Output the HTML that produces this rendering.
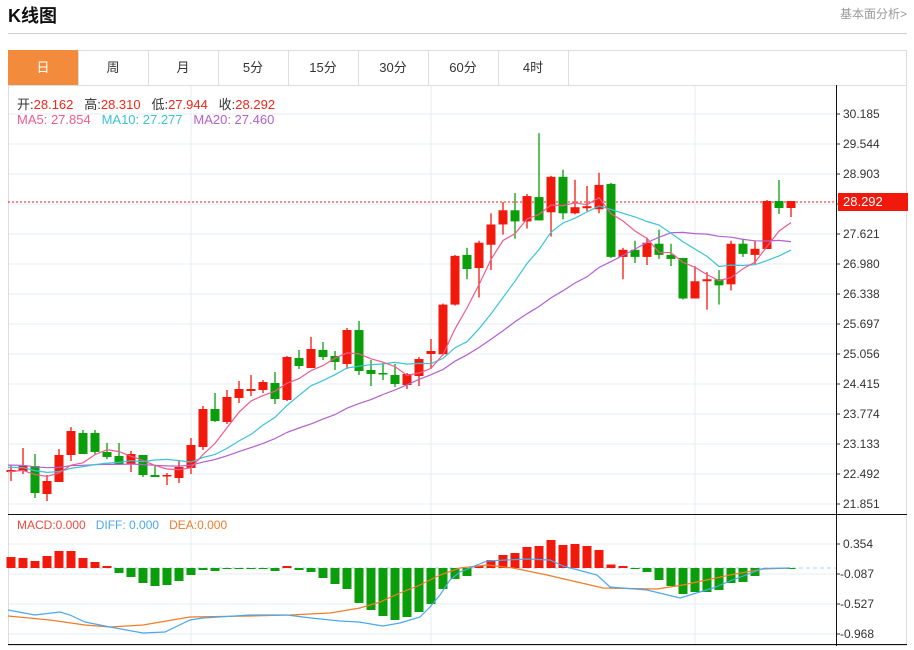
<!DOCTYPE html>
<html><head><meta charset="utf-8"><style>
body{margin:0;width:914px;height:650px;background:#fff;font-family:"Liberation Sans","Noto Sans CJK SC",sans-serif;position:relative;overflow:hidden}
.t{position:absolute;white-space:nowrap}
</style></head><body>
<div class="t" style="left:8px;top:2px;font-size:18px;font-weight:bold;color:#111">K线图</div>
<div class="t" style="right:7px;top:5px;font-size:12px;color:#999">基本面分析&gt;</div>
<div style="position:absolute;left:8px;top:33px;width:899px;height:1px;background:#d0d0d0"></div>
<svg id="s" width="914" height="650" style="position:absolute;left:0;top:0"></svg>
<div class="t" style="left:8px;top:50px;width:70px;height:35px;line-height:35px;text-align:center;background:#f28c3c;color:#fff;font-size:13px">日</div>
<div class="t" style="left:78px;top:50px;width:70px;line-height:35px;text-align:center;font-size:13px;color:#333">周</div>
<div class="t" style="left:148px;top:50px;width:70px;line-height:35px;text-align:center;font-size:13px;color:#333">月</div>
<div class="t" style="left:218px;top:50px;width:70px;line-height:35px;text-align:center;font-size:13px;color:#333">5分</div>
<div class="t" style="left:288px;top:50px;width:70px;line-height:35px;text-align:center;font-size:13px;color:#333">15分</div>
<div class="t" style="left:358px;top:50px;width:70px;line-height:35px;text-align:center;font-size:13px;color:#333">30分</div>
<div class="t" style="left:428px;top:50px;width:70px;line-height:35px;text-align:center;font-size:13px;color:#333">60分</div>
<div class="t" style="left:498px;top:50px;width:70px;line-height:35px;text-align:center;font-size:13px;color:#333">4时</div>
<div class="t" style="left:17px;top:94px;font-size:13px;color:#333">开:<span style="color:#f0261a">28.162</span>&nbsp;&nbsp;&nbsp;高:<span style="color:#f0261a">28.310</span>&nbsp;&nbsp;&nbsp;低:<span style="color:#f0261a">27.944</span>&nbsp;&nbsp;&nbsp;收:<span style="color:#f0261a">28.292</span></div>
<div class="t" style="left:17px;top:112px;font-size:13px;"><span style="color:#ee5c8c">MA5: 27.854</span>&nbsp;&nbsp;&nbsp;<span style="color:#3cc3d8">MA10: 27.277</span>&nbsp;&nbsp;&nbsp;<span style="color:#b460cf">MA20: 27.460</span></div>
<div class="t" style="left:17px;top:518px;font-size:12px;"><span style="color:#ee4b3f">MACD:0.000</span>&nbsp;&nbsp;&nbsp;<span style="color:#4aa8f0">DIFF: 0.000</span>&nbsp;&nbsp;&nbsp;<span style="color:#f07d28">DEA:0.000</span></div>
<div class="t" style="left:843px;top:106px;font-size:12px;color:#333;line-height:16px">30.185</div>
<div class="t" style="left:843px;top:136px;font-size:12px;color:#333;line-height:16px">29.544</div>
<div class="t" style="left:843px;top:166px;font-size:12px;color:#333;line-height:16px">28.903</div>
<div class="t" style="left:843px;top:226px;font-size:12px;color:#333;line-height:16px">27.621</div>
<div class="t" style="left:843px;top:256px;font-size:12px;color:#333;line-height:16px">26.980</div>
<div class="t" style="left:843px;top:286px;font-size:12px;color:#333;line-height:16px">26.338</div>
<div class="t" style="left:843px;top:316px;font-size:12px;color:#333;line-height:16px">25.697</div>
<div class="t" style="left:843px;top:346px;font-size:12px;color:#333;line-height:16px">25.056</div>
<div class="t" style="left:843px;top:376px;font-size:12px;color:#333;line-height:16px">24.415</div>
<div class="t" style="left:843px;top:406px;font-size:12px;color:#333;line-height:16px">23.774</div>
<div class="t" style="left:843px;top:436px;font-size:12px;color:#333;line-height:16px">23.133</div>
<div class="t" style="left:843px;top:466px;font-size:12px;color:#333;line-height:16px">22.492</div>
<div class="t" style="left:843px;top:496px;font-size:12px;color:#333;line-height:16px">21.851</div>
<div class="t" style="left:838px;top:193px;width:70px;height:18px;background:#f0190c;color:#fff;font-size:13px;line-height:18px;padding-left:5px;box-sizing:border-box">28.292</div>
<div class="t" style="left:843px;top:536px;font-size:12px;color:#333;line-height:16px">0.354</div>
<div class="t" style="left:840px;top:566px;font-size:12px;color:#333;line-height:16px">-0.087</div>
<div class="t" style="left:840px;top:596px;font-size:12px;color:#333;line-height:16px">-0.527</div>
<div class="t" style="left:840px;top:626px;font-size:12px;color:#333;line-height:16px">-0.968</div>
<script>
var C=[[470,472,465,481,1],[466,471,448,474,1],[466,493,454,498,0],[481,494,475,501,1],[455,482,449,482,1],[431,455,427,461,1],[433,454,430,454,0],[433,452,430,454,0],[452,457,443,459,0],[456,464,443,464,0],[454,464,451,472,1],[455,475,455,477,0],[475,477,466,477,0],[475,476,473,485,1],[467,478,461,483,1],[445,468,438,474,1],[409,447,406,450,1],[409,421,393,422,0],[397,422,390,424,1],[389,398,381,403,1],[389,391,375,396,1],[382,390,380,393,1],[383,399,372,404,0],[357,400,356,401,1],[358,366,350,369,0],[349,368,337,368,1],[350,357,342,360,0],[356,362,351,370,0],[330,364,328,369,1],[330,371,321,375,0],[370,374,360,386,0],[373,374,363,380,0],[375,384,364,387,0],[374,385,373,389,1],[359,376,357,386,1],[351,354,339,369,1],
[302,351,301,352,1],[254,302,253,303,1],[253,267,246,277,0],[241,266,239,295,1],[223,243,212,268,1],[209,223,201,233,1],[209,220,192,237,0],[195,220,193,227,1],[196,219,133,219,0],[176,211,175,235,1],[176,212,169,218,0],[206,212,179,213,1],[205,207,185,210,1],[184,208,172,212,1],[183,255,182,256,0],[248,255,246,277,1],[248,255,239,261,0],[241,255,236,263,1],[242,253,228,257,0],[253,257,242,264,0],[256,296,256,297,0],[279,296,264,296,1],[277,279,270,307,1],[277,283,268,302,0],[242,282,239,288,1],[242,252,237,255,0],[247,253,239,262,1],[201,249,200,249,1],[201,208,180,214,0],[201,208,201,217,1]];
for(var i=36;i<C.length;i++){for(var k=0;k<4;k++){var v=C[i][k];if(i<63)C[i][k]=v+(v-120)*0.0142;}}
var M=[557,558,561,556,551,551,558,562,566,573,577,583,586,585,581,575,570,571,569,569,569,569,571,566,570,572,578,584,589,603,610,616,620,617,612,604,589,579,576,566,560,555,553,547,546,540,545,544,546,550,564.5,566,569,572,580,586,594,592,592,590,583,582,576,569,569,568.5];
var DIFF=[[8,610],[35,615],[60,612],[70,615],[85,622],[110,627],[143,633],[165,632],[190,620],[203,618],[250,615],[287,615],[311,618],[340,621],[359,622],[383,626],[400,623],[420,617],[430,607],[440,595],[450,580],[460,572],[487,561],[527,559],[550,560],[563,566],[597,575],[610,587],[647,590],[680,598],[713,588],[730,581],[763,568.5],[790,568]];
var DEA=[[8,616],[50,620],[85,625],[110,627],[143,625],[190,617],[250,616],[290,615],[330,613],[360,608],[380,602],[400,593],[420,585],[440,575],[460,568],[487,565],[513,568],[547,575],[603,588],[657,589],[683,585],[730,575],[763,569],[790,568]];
var s='',g='#e4ecf3';
for(var y=114;y<=504;y+=30)s+='<line x1="8" x2="836" y1="'+y+'" y2="'+y+'" stroke="'+g+'"/><line x1="836" x2="840" y1="'+y+'" y2="'+y+'" stroke="#333"/>';
for(var y=544;y<=634;y+=30)s+='<line x1="8" x2="836" y1="'+y+'" y2="'+y+'" stroke="'+g+'"/><line x1="836" x2="840" y1="'+y+'" y2="'+y+'" stroke="#333"/>';
[191,431,695].forEach(function(x){s+='<line x1="'+x+'" x2="'+x+'" y1="85" y2="645" stroke="'+g+'"/>';});
s+='<rect x="8.5" y="50.5" width="898" height="595" fill="none" stroke="#ddd"/>';
s+='<line x1="8" x2="907" y1="85.5" y2="85.5" stroke="#ddd"/>';
for(var t=78;t<=568;t+=70)s+='<line x1="'+(t+0.5)+'" x2="'+(t+0.5)+'" y1="50" y2="85" stroke="#ddd"/>';
s+='<line x1="836.5" x2="836.5" y1="85" y2="646" stroke="#111"/>';
s+='<line x1="8" x2="907" y1="514.5" y2="514.5" stroke="#111"/><line x1="8" x2="907" y1="644.5" y2="644.5" stroke="#111"/>';
s+='<line x1="8" x2="836" y1="202" y2="202" stroke="#f0190c" stroke-dasharray="2,2"/>';
s+='<line x1="8" x2="836" y1="568" y2="568" stroke="#a9d6f0" stroke-dasharray="4,3"/>';
// MACD bars
for(var i=0;i<M.length;i++){var x=11+12*i,v=M[i],z=568,col=v<z?'#f0190c':'#0a9e0a';var y0=Math.min(v,z),h=Math.max(Math.abs(v-z),1);s+='<rect x="'+(x-4.5)+'" y="'+y0+'" width="9" height="'+h+'" fill="'+col+'"/>';}
function pl(p,c){return '<polyline fill="none" stroke="'+c+'" stroke-width="1.2" points="'+p.map(function(a){return a.join(',')}).join(' ')+'"/>';}
s+=pl(DEA,'#f07d28')+pl(DIFF,'#4aa8f0');
// candles
for(var i=0;i<C.length;i++){var c=C[i],x=11+12*i,col=c[4]?'#f0190c':'#0a9e0a';s+='<line x1="'+x+'" x2="'+x+'" y1="'+c[2]+'" y2="'+c[3]+'" stroke="'+col+'" stroke-width="1.3"/><rect x="'+(x-4.5)+'" y="'+c[0]+'" width="9" height="'+Math.max(c[1]-c[0],1.5)+'" fill="'+col+'"/>';}
// MAs
var cl=[];for(var k=0;k<19;k++)cl.push(k<15?463:472);
for(var i=0;i<C.length;i++)cl.push(C[i][4]?C[i][0]:C[i][1]);
function ma(n){var p=[];for(var i=0;i<C.length;i++){var j=i+19,sm=0;for(var k=0;k<n;k++)sm+=cl[j-k];p.push([11+12*i,(sm/n).toFixed(1)]);}p.unshift([8,p[0][1]]);return p;}
s+=pl(ma(20),'#b460cf')+pl(ma(10),'#3cc3d8')+pl(ma(5),'#ee5c8c');
document.getElementById('s').innerHTML=s;
</script>
</body></html>
